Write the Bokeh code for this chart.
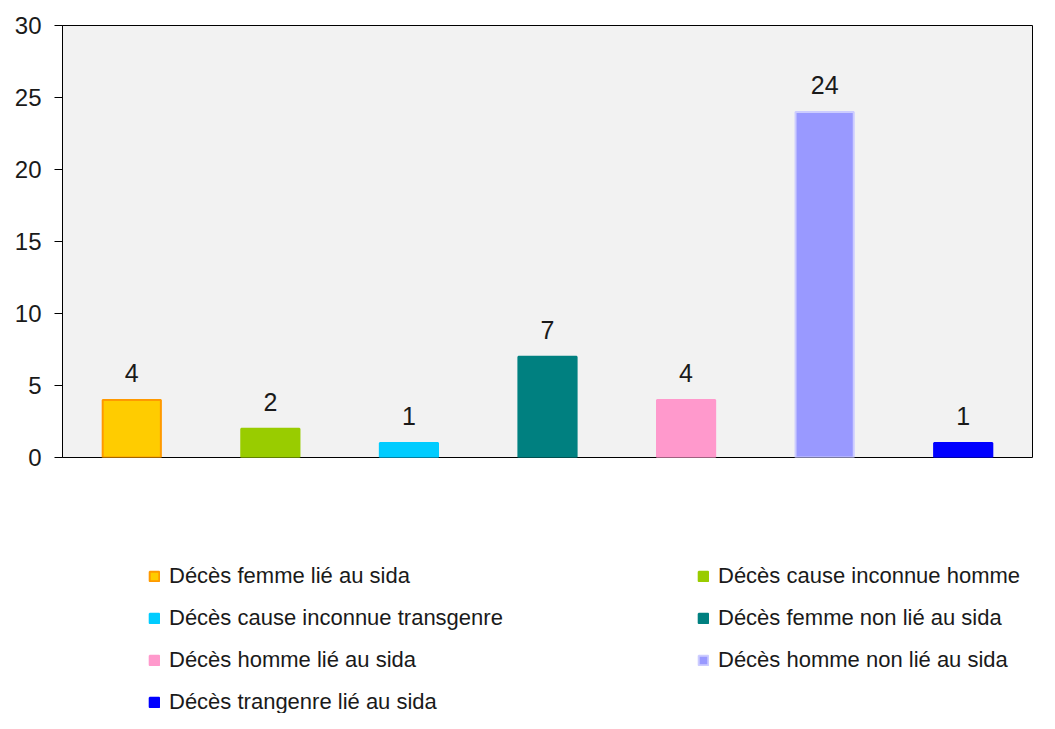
from bokeh.plotting import figure
from bokeh.layouts import column
from bokeh.models import ColumnDataSource, FactorRange, Range1d, FixedTicker, Legend, LegendItem
from bokeh.core.properties import value
from bokeh.embed import file_html
from bokeh.resources import INLINE

categories = [
    "Décès femme lié au sida",
    "Décès cause inconnue homme",
    "Décès cause inconnue transgenre",
    "Décès femme non lié au sida",
    "Décès homme lié au sida",
    "Décès homme non lié au sida",
    "Décès trangenre lié au sida",
]
values = [4, 2, 1, 7, 4, 24, 1]
fill_colors = ["#FFCC00", "#99CC00", "#00CCFF", "#008080", "#FF99CC", "#9999FF", "#0000FF"]
line_colors = ["#FF9900", "#99CC00", "#00CCFF", "#008080", "#FF99CC", "#CCCCFF", "#0000FF"]
y_ticks = [0, 5, 10, 15, 20, 25, 30]

FONT = "Liberation Sans"

src = ColumnDataSource(dict(
    cat=categories,
    val=values,
    lbl=[str(v) for v in values],
    fill=fill_colors,
    line=line_colors,
))

# ---- main chart ----
p = figure(
    width=1039, height=471,
    x_range=FactorRange(factors=categories, range_padding=0),
    y_range=Range1d(0, 30),
    output_backend="svg", toolbar_location=None,
    min_border_left=62, min_border_right=7, min_border_top=25, min_border_bottom=14,
)
p.background_fill_color = "#F2F2F2"
p.border_fill_color = "white"
p.outline_line_color = "black"
p.outline_line_width = 1
p.xgrid.visible = False
p.ygrid.visible = False
p.xaxis.visible = False

ya = p.yaxis[0]
ya.ticker = FixedTicker(ticks=y_ticks)
ya.minor_tick_line_color = None
ya.major_tick_in = 0
ya.major_tick_out = 8
ya.major_tick_line_color = "black"
ya.axis_line_color = "black"
ya.major_label_standoff = 13
ya.major_label_text_font = FONT
ya.major_label_text_font_size = "24px"
ya.major_label_text_color = "#1a1a1a"

p.vbar(x="cat", top="val", width=0.42, source=src,
       fill_color="fill", line_color="line", line_width=2)

p.text(x="cat", y="val", text="lbl", source=src,
       text_align="center", text_baseline="alphabetic", y_offset=-27,
       text_font=value(FONT), text_font_size="25px", text_color="#1a1a1a")

# ---- legend panel ----
lp = figure(
    width=1039, height=242,
    x_range=FactorRange(factors=categories, range_padding=0),
    y_range=Range1d(1000, 1001),
    output_backend="svg", toolbar_location=None,
    min_border=0,
)
lp.axis.visible = False
lp.grid.visible = False
lp.outline_line_color = None
lp.background_fill_color = "white"
lp.border_fill_color = "white"

lr = lp.vbar(x="cat", top="val", width=0.42, source=src,
             fill_color="fill", line_color="line", line_width=2)
lr.visible = False

def make_legend(idxs, loc):
    items = [LegendItem(label=categories[i], renderers=[lr], index=i) for i in idxs]
    return Legend(items=items, location=loc, orientation="vertical",
                  border_line_color=None, background_fill_alpha=0,
                  padding=0, margin=0, spacing=16,
                  glyph_width=12, glyph_height=12, label_height=26,
                  label_standoff=9,
                  label_text_font=FONT, label_text_font_size="22px",
                  label_text_color="#1a1a1a")

lp.add_layout(make_legend([0, 2, 4, 6], (86, -2)))
lp.add_layout(make_legend([1, 3, 5], (635, 40)))

layout = column(p, lp, spacing=0)
open("out.html", "w").write(file_html(layout, INLINE))
